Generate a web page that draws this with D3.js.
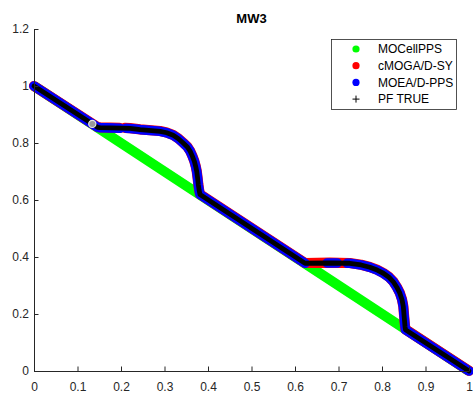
<!DOCTYPE html>
<html>
<head>
  <title>MW3</title>
  <script src="https://d3js.org/d3.v7.min.js"></script>
  <style>
    body { margin: 0; background: #fff; }
    text { font-family: Arial, "Liberation Sans", Helvetica, sans-serif; }
  </style>
</head>
<body>
  <div id="chart"></div>

  <script>
    // values (NaN = gap in the series)
    const pfX = [0, 0.146, 0.152, 0.221, 0.244, 0.290, 0.305, 0.320, 0.332, 0.343, 0.352, 0.359, 0.364, 0.3685,
                 0.3715, 0.374, 0.376, 0.3777, 0.3795, 0.3816,
                 0.623, 0.680, 0.726, 0.752, 0.772, 0.789, 0.803, 0.816, 0.826, 0.834, 0.841, 0.846, 0.849,
                 0.851, 0.853, 0.854, 1];
    const pfY = [1, 0.855, 0.854, 0.851, 0.847, 0.841, 0.836, 0.827, 0.815, 0.800, 0.787, 0.771, 0.754, 0.736,
                 0.719, 0.701, 0.678, 0.654, 0.635, 0.619,
                 0.378, 0.379, 0.378, 0.372, 0.364, 0.354, 0.343, 0.329, 0.313, 0.294, 0.273, 0.250, 0.226,
                 0.190, 0.155, 0.145, 0];

    const blueX = [0, 0.146, 0.152, 0.198, NaN, 0.212, 0.221, 0.244, 0.290, 0.305, 0.320, 0.332, 0.343, 0.352, 0.359,
                   0.364, 0.3685, 0.3715, 0.374, 0.376, 0.3777, 0.3795, 0.3816,
                   0.623, NaN, 0.674, 0.697, NaN, 0.720, 0.726, 0.752, 0.772, 0.789, 0.803, 0.816, 0.826, 0.834,
                   0.841, 0.846, 0.849, 0.851, 0.853, 0.854, 1];
    const blueY = [1, 0.855, 0.854, 0.852, NaN, 0.852, 0.851, 0.847, 0.841, 0.836, 0.827, 0.815, 0.800, 0.787, 0.771,
                   0.754, 0.736, 0.719, 0.701, 0.678, 0.654, 0.635, 0.619,
                   0.378, NaN, 0.379, 0.379, NaN, 0.378, 0.378, 0.372, 0.364, 0.354, 0.343, 0.329, 0.313, 0.294,
                   0.273, 0.250, 0.226, 0.190, 0.155, 0.145, 0];

    const redX = [0, 0.146, 0.152, 0.197, NaN, 0.209, 0.221, 0.244, 0.290, 0.305, 0.320, 0.332, 0.343, 0.352, 0.359,
                  0.364, 0.3685, 0.3715, 0.374, 0.376, 0.3777, 0.3795, 0.3816,
                  0.623, 0.680, 0.726, 0.752, 0.772, 0.789, 0.803, 0.816, 0.826, 0.834, 0.841, 0.846, 0.849,
                  0.851, 0.853, 0.854, 1];
    const redY = [1, 0.856, 0.855, 0.853, NaN, 0.853, 0.852, 0.848, 0.842, 0.837, 0.828, 0.816, 0.801, 0.788, 0.772,
                  0.755, 0.737, 0.720, 0.702, 0.679, 0.655, 0.636, 0.620,
                  0.379, 0.380, 0.379, 0.373, 0.365, 0.355, 0.344, 0.330, 0.314, 0.295, 0.274, 0.251, 0.227,
                  0.191, 0.156, 0.146, 0.001];

    const greenX = [0, 0.146, 0.3816, 0.623, 0.854, 1];
    const greenY = [1, 0.854, 0.618, 0.377, 0.146, 0];

    const markX = [0.134];
    const markY = [0.867];

    const xTicks = [0, 0.1, 0.2, 0.3, 0.4, 0.5, 0.6, 0.7, 0.8, 0.9, 1];
    const xTickLabels = ["0", "0.1", "0.2", "0.3", "0.4", "0.5", "0.6", "0.7", "0.8", "0.9", "1"];
    const yTicks = [0, 0.2, 0.4, 0.6, 0.8, 1, 1.2];
    const yTickLabels = ["0", "0.2", "0.4", "0.6", "0.8", "1", "1.2"];

    const legendNames = ["MOCellPPS", "cMOGA/D-SY", "MOEA/D-PPS", "PF TRUE"];
    const legendColors = ["#00ff00", "#ff0000", "#0000ff", "#000000"];

    const width = 473, height = 396;
    const margin = { top: 29, right: 4, bottom: 25, left: 34 };
    const axisColor = "#262626";

    const svg = d3.select("#chart").append("svg")
      .attr("width", width).attr("height", height);

    const x = d3.scaleLinear().domain([0, 1]).range([margin.left, width - margin.right]);
    const y = d3.scaleLinear().domain([0, 1.2]).range([height - margin.bottom, margin.top]);

    const zip = (xs, ys) => xs.map((v, i) => ({ x: v, y: ys[i] }));

    const line = d3.line()
      .defined(d => !isNaN(d.x) && !isNaN(d.y))
      .x(d => x(d.x))
      .y(d => y(d.y));

    const plot = svg.append("g");

    function band(data, color, w, cap) {
      plot.append("path")
        .datum(data)
        .attr("fill", "none")
        .attr("stroke", color)
        .attr("stroke-width", w)
        .attr("stroke-linejoin", "round")
        .attr("stroke-linecap", cap || "round")
        .attr("d", line);
    }

    band(zip(greenX, greenY), "#00ff00", 10, "butt");
    band(zip(redX, redY), "#ff0000", 10.2);
    band(zip(blueX, blueY), "#0000ff", 9.6);
    band(zip(pfX, pfY), "#000000", 4.8);

    plot.selectAll("circle.mark")
      .data(zip(markX, markY))
      .join("circle")
      .attr("class", "mark")
      .attr("cx", d => x(d.x))
      .attr("cy", d => y(d.y))
      .attr("r", 3.6)
      .attr("fill", "#9a9a9a")
      .attr("stroke", "#e6e6e6")
      .attr("stroke-width", 1.2);

    // axes, MATLAB style: ticks inside, no box
    const xAxis = d3.axisBottom(x)
      .tickValues(xTicks)
      .tickFormat((d, i) => xTickLabels[i])
      .tickSizeInner(-4.5).tickSizeOuter(0).tickPadding(11);
    const yAxis = d3.axisLeft(y)
      .tickValues(yTicks)
      .tickFormat((d, i) => yTickLabels[i])
      .tickSizeInner(-4.5).tickSizeOuter(0).tickPadding(5);

    const gx = svg.append("g")
      .attr("transform", `translate(0,${y(0)})`)
      .call(xAxis);
    const gy = svg.append("g")
      .attr("transform", `translate(${x(0)},0)`)
      .call(yAxis);

    [gx, gy].forEach(g => {
      g.select(".domain").attr("stroke", axisColor);
      g.selectAll(".tick line").attr("stroke", axisColor);
      g.selectAll(".tick text")
        .attr("fill", axisColor)
        .style("font-size", "12px");
    });

    svg.append("text")
      .attr("x", (x(0) + x(1)) / 2)
      .attr("y", 22.5)
      .attr("text-anchor", "middle")
      .style("font-size", "13px")
      .style("font-weight", "bold")
      .attr("fill", "#000")
      .text("MW3");

    // legend
    const lg = svg.append("g");
    lg.append("rect")
      .attr("x", 331.5).attr("y", 39.5)
      .attr("width", 125).attr("height", 70)
      .attr("fill", "#fff")
      .attr("stroke", axisColor)
      .attr("stroke-width", 0.8);

    const rows = lg.selectAll("g.row")
      .data(legendNames)
      .join("g")
      .attr("class", "row")
      .attr("transform", (d, i) => `translate(0,${49 + i * 16.7})`);

    rows.filter((d, i) => i < 3).append("circle")
      .attr("cx", 356).attr("cy", 0).attr("r", 3.6)
      .attr("fill", (d, i) => legendColors[i]);

    rows.filter((d, i) => i === 3).append("path")
      .attr("d", "M352.5,0H359.5M356,-3.5V3.5")
      .attr("stroke", legendColors[3])
      .attr("stroke-width", 1);

    rows.append("text")
      .attr("x", 378).attr("y", 0)
      .attr("dy", "0.36em")
      .style("font-size", "12px")
      .attr("fill", "#000")
      .text(d => d);
  </script>
</body>
</html>
